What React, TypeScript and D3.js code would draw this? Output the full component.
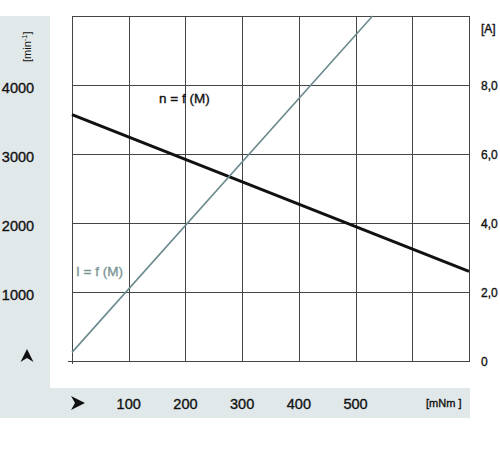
import { useEffect, useRef } from "react";
import * as d3 from "d3";

// torque grid / labels [mNm]
const torqueGrid = [0, 100, 200, 300, 400, 500, 600, 700];
const torqueLabels = [100, 200, 300, 400, 500];
// speed axis [min-1]
const speedGrid = [1000, 2000, 3000, 4000, 5000];
const speedLabels = [1000, 2000, 3000, 4000];
// current axis [A]
const currentTicks = [0, 2, 4, 6, 8];
const currentLabels = ["0", "2,0", "4,0", "6,0", "8,0"];

// n = f(M)
const speedTorque = [0, 700];
const speedValues = [3570, 1300];
// I = f(M)
const currentTorque = [0, 530];
const currentValues = [0.25, 10];

const FONT = "'Liberation Sans', Arial, sans-serif";

const App = () => {
  const svgRef = useRef(null);

  useEffect(() => {
    if (!svgRef.current) return;
    const svg = d3.select(svgRef.current);
    svg.selectAll("*").remove();

    const left = 72,
      right = 469,
      top = 16,
      bottom = 361;

    const x = d3.scaleLinear().domain([0, 700]).range([left, right]);
    const yN = d3.scaleLinear().domain([0, 5000]).range([bottom, top]);
    const yI = d3.scaleLinear().domain([0, 10]).range([bottom, top]);

    // grey panels
    svg
      .append("rect")
      .attr("x", 0)
      .attr("y", 16)
      .attr("width", 50)
      .attr("height", 402)
      .attr("fill", "#e1e8ea");
    svg
      .append("rect")
      .attr("x", 0)
      .attr("y", 388)
      .attr("width", 470)
      .attr("height", 30)
      .attr("fill", "#e1e8ea");

    // grid
    const grid = svg.append("g").attr("stroke", "#444").attr("stroke-width", 1);
    torqueGrid.forEach((t) => {
      grid
        .append("line")
        .attr("x1", Math.round(x(t)) + 0.5)
        .attr("x2", Math.round(x(t)) + 0.5)
        .attr("y1", top)
        .attr("y2", t === 0 ? bottom + 3 : bottom);
    });
    speedGrid.forEach((s) => {
      grid
        .append("line")
        .attr("x1", left)
        .attr("x2", right + 1)
        .attr("y1", Math.round(yN(s)) + 0.5)
        .attr("y2", Math.round(yN(s)) + 0.5);
    });
    grid
      .append("line")
      .attr("x1", left - 4)
      .attr("x2", right + 1)
      .attr("y1", bottom + 0.5)
      .attr("y2", bottom + 0.5);

    // curves
    const lineN = d3
      .line<number>()
      .x((d, i) => x(speedTorque[i]))
      .y((d) => yN(d));
    svg
      .append("path")
      .datum(speedValues)
      .attr("fill", "none")
      .attr("stroke", "#111")
      .attr("stroke-width", 3)
      .attr("d", lineN);

    const lineI = d3
      .line<number>()
      .x((d, i) => x(currentTorque[i]))
      .y((d) => yI(d));
    svg
      .append("path")
      .datum(currentValues)
      .attr("fill", "none")
      .attr("stroke", "#6b8b8e")
      .attr("stroke-width", 1.6)
      .attr("d", lineI);

    const label = (tx: number, ty: number, txt: string | number, size: number, color = "#111", anchor = "start") =>
      svg
        .append("text")
        .attr("x", tx)
        .attr("y", ty)
        .attr("text-anchor", anchor)
        .attr("font-family", FONT)
        .attr("font-size", size)
        .attr("fill", color)
        .attr("stroke", color)
        .attr("stroke-width", 0.35)
        .text(txt);

    // curve labels
    label(159, 103, "n = f (M)", 13.5);
    label(76, 276, "I = f (M)", 13.5, "#7a9597");

    // left axis labels
    speedLabels.forEach((s) => label(18, yN(s) + 8, s, 14.5, "#111", "middle"));
    const unitN = svg
      .append("text")
      .attr("transform", "translate(31,62) rotate(-90)")
      .attr("font-family", FONT)
      .attr("font-size", 11)
      .attr("fill", "#111");
    unitN.append("tspan").text("[min");
    unitN.append("tspan").attr("dy", -4).attr("font-size", 7.5).text("-1");
    unitN.append("tspan").attr("dy", 4).text("]");

    // bottom axis labels
    torqueLabels.forEach((t) => label(x(t), 409, t, 14.5, "#111", "middle"));
    label(426, 407, "[mNm ]", 11);

    // right axis labels
    currentTicks.forEach((c, i) => label(481, yI(c) + 5, currentLabels[i], 12));
    label(481, 33, "[A]", 12);

    // arrows
    svg
      .append("path")
      .attr("d", "M27,349 L33.5,362 L27,358 L20.5,362 Z")
      .attr("fill", "#111");
    svg
      .append("path")
      .attr("d", "M85,403 L71,410 L75,403 L71,396 Z")
      .attr("fill", "#111");
  }, []);

  return (
    <svg
      ref={svgRef}
      width={500}
      height={462}
      style={{ position: "absolute", left: 0, top: 0, background: "#fff" }}
    />
  );
};

export default App;
